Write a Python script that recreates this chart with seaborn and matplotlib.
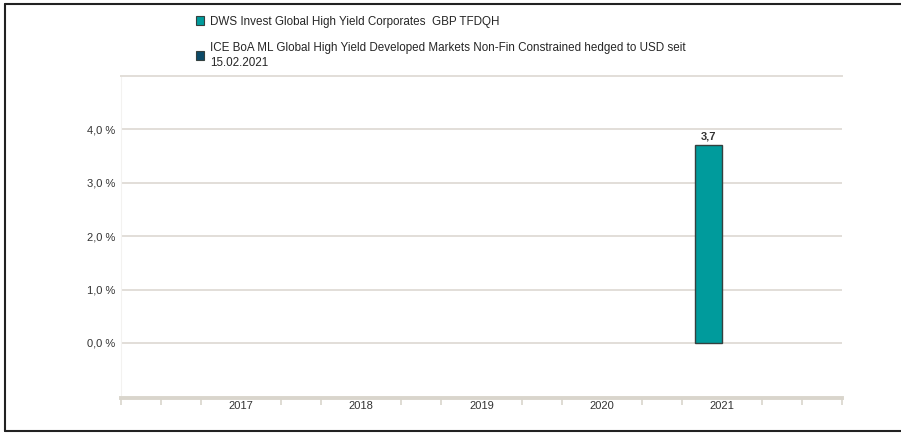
import numpy as np
import pandas as pd
import matplotlib.pyplot as plt
import matplotlib.lines as mlines
import matplotlib.patches as mpatches
import seaborn as sns

# ------------------------------------------------------------------
# data
# ------------------------------------------------------------------
YEARS = ["2017", "2018", "2019", "2020", "2021"]
FUND = "DWS Invest Global High Yield Corporates  GBP TFDQH"
BENCH = ("ICE BoA ML Global High Yield Developed Markets Non-Fin Constrained "
         "hedged to USD seit\n15.02.2021")
FUND_VALUES = [np.nan, np.nan, np.nan, np.nan, 3.7]
BENCH_VALUES = [np.nan, np.nan, np.nan, np.nan, np.nan]
Y_TICKS = [0, 1, 2, 3, 4]

COLORS = {FUND: "#009b9c", BENCH: "#0c4a68"}
GRID = "#e2ded8"
AXIS = "#d9d5cc"

df = pd.concat([
    pd.DataFrame({"Jahr": YEARS, "Serie": FUND, "Wert": FUND_VALUES}),
    pd.DataFrame({"Jahr": YEARS, "Serie": BENCH, "Wert": BENCH_VALUES}),
], ignore_index=True)
df = df.dropna(subset=["Wert"])  # empty years have no bar

sns.set_style("white")
plt.rcParams["font.family"] = ["Liberation Sans", "DejaVu Sans"]

fig = plt.figure(figsize=(9.01, 4.33), dpi=100)
ax = fig.add_axes([121 / 901, 1 - 398 / 433, (842 - 121) / 901, (398 - 76) / 433])

sns.barplot(data=df, x="Jahr", y="Wert", hue="Serie", hue_order=[FUND, BENCH],
            order=YEARS, palette=COLORS, width=0.45, dodge=True, saturation=1,
            edgecolor="#34403f", linewidth=1.0, ax=ax, legend=False, zorder=3)

ax.set_xlim(-1, 5)
ax.set_ylim(-1.03, 5)

# grid lines
ax.set_yticks(Y_TICKS)
ax.set_yticklabels([f"{v:.1f} %".replace(".", ",") for v in Y_TICKS])
ax.yaxis.grid(True, color=GRID, linewidth=1.4, zorder=0)
ax.tick_params(axis="y", length=0, pad=4, labelsize=8, labelcolor="#333333")

# x axis: labels at categories, little ticks in between
ax.set_xticks(range(len(YEARS)))
ax.set_xticklabels(YEARS)
minor = [i / 3 for i in range(-3, 16) if i % 3 != 0 or i in (-3, 15)]
ax.set_xticks(minor, minor=True)
ax.tick_params(axis="x", which="major", bottom=True, length=0, pad=2.5,
               labelsize=8, labelcolor="#333333")
ax.tick_params(axis="x", which="minor", bottom=True, length=5, width=1.2,
               color=AXIS, direction="out")

ax.set_xlabel("")
ax.set_ylabel("")
ax.spines["right"].set_visible(False)
ax.spines["top"].set_color(GRID)
ax.spines["top"].set_linewidth(1.4)
ax.spines["left"].set_color("#f3f2f0")
ax.spines["left"].set_linewidth(0.8)
ax.spines["bottom"].set_color(AXIS)
ax.spines["bottom"].set_linewidth(2.8)

# value label
for cont in ax.containers:
    labels = ["" if np.isnan(v) else f"{v:.1f}".replace(".", ",") for v in cont.datavalues]
    ax.bar_label(cont, labels=labels, padding=3, fontsize=8, fontweight="bold", color="#333333")

# legend at the top
handles = [mpatches.Patch(facecolor=COLORS[s], edgecolor="#34403f", linewidth=0.8, label=s)
           for s in [FUND, BENCH]]
fig.legend(handles=handles, loc="upper left", bbox_to_anchor=(191 / 901, 1 - 11 / 433),
           frameon=False, fontsize=8.4, handlelength=0.75, handleheight=0.75,
           handletextpad=0.5, labelspacing=1.2, borderaxespad=0)
for txt in fig.legends[0].get_texts():
    txt.set_linespacing(1.35)

# frame around the picture
fig.add_artist(mlines.Line2D([5 / 901, 5 / 901], [1 - 4 / 433, 1 - 431 / 433],
                             transform=fig.transFigure, color="#222222", linewidth=1.5))
fig.add_artist(mlines.Line2D([5 / 901, 1], [1 - 4 / 433, 1 - 4 / 433],
                             transform=fig.transFigure, color="#222222", linewidth=1.5))
fig.add_artist(mlines.Line2D([5 / 901, 1], [1 - 431 / 433, 1 - 431 / 433],
                             transform=fig.transFigure, color="#222222", linewidth=1.5))

fig.savefig("out.png", dpi=100)
